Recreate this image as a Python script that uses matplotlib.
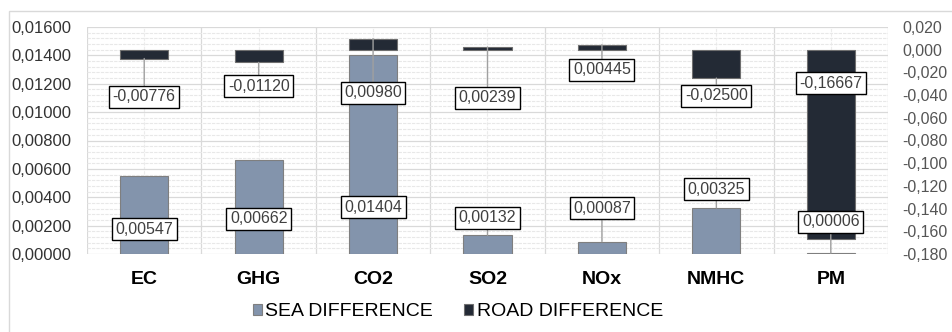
import matplotlib
matplotlib.use("Agg")
import matplotlib.pyplot as plt
from matplotlib.patches import Rectangle
from matplotlib.ticker import FixedLocator, MultipleLocator
import numpy as np

plt.rcParams['font.family'] = ['Liberation Sans', 'DejaVu Sans']

categories = ["EC", "GHG", "CO2", "SO2", "NOx", "NMHC", "PM"]
sea_diff = [0.00547, 0.00662, 0.01404, 0.00132, 0.00087, 0.00325, 0.00006]
road_diff = [-0.00776, -0.01120, 0.00980, 0.00239, 0.00445, -0.02500, -0.16667]
left_ticks = [0.0, 0.002, 0.004, 0.006, 0.008, 0.010, 0.012, 0.014, 0.016]
right_ticks = [0.02, 0.0, -0.02, -0.04, -0.06, -0.08, -0.10, -0.12, -0.14, -0.16, -0.18]

# label box positions (in left-axis units)
road_label_y = [0.01107, 0.01184, 0.01135, 0.01100, 0.01297, 0.01114, 0.01205]
sea_label_y = [0.00173, 0.00247, 0.00328, 0.00254, 0.00324, 0.00458, 0.00226]

SEA_COLOR = "#8394AC"
ROAD_COLOR = "#232A35"

fig = plt.figure(figsize=(9.52, 3.32), dpi=100)
fig.patches.append(Rectangle((9 / 952, -0.1), 1.2, 1 - 11 / 332 + 0.1,
                             transform=fig.transFigure, fill=False,
                             ec="#d9d9d9", lw=1.0, zorder=0))

ax = fig.add_axes([87 / 952, 1 - 254 / 332, (888 - 87) / 952, (254 - 27) / 332])
ax2 = ax.twinx()

x = np.arange(len(categories))
w = 0.42

ax.set_xlim(-0.5, len(categories) - 0.5)
ax.set_ylim(0, 0.016)
ax2.set_ylim(-0.18, 0.02)

# grid
ax.yaxis.set_major_locator(FixedLocator(left_ticks))
ax.yaxis.set_minor_locator(MultipleLocator(0.0004))
ax.grid(which="major", axis="y", color="#d9d9d9", lw=0.9, ls="-", zorder=0)
ax.grid(which="minor", axis="y", color="#e8e8e8", lw=0.8, ls=(0, (3, 1)), zorder=0)
for b in np.arange(-0.5, len(categories) + 0.5, 1):
    ax.axvline(b, color="#d9d9d9", lw=0.9, zorder=0)
for c in x:
    ax.axvline(c, color="#ececec", lw=0.8, ls=(0, (3, 1)), zorder=0)
ax.set_axisbelow(True)

ax.bar(x, sea_diff, width=w, color=SEA_COLOR, edgecolor="#7f7f7f", lw=0.8, zorder=2,
       label="SEA DIFFERENCE")
ax2.bar(x, road_diff, width=w, color=ROAD_COLOR, edgecolor="#6f6f6f", lw=0.8, zorder=2,
        label="ROAD DIFFERENCE")

# ticks
ax.set_xticks(x)
ax.set_xticklabels(categories, fontsize=14, fontweight="bold", color="#000000")
ax.tick_params(axis="x", length=0, pad=12)
ax.set_yticklabels([f"{t:.5f}".replace(".", ",") for t in left_ticks], fontsize=12,
                   color="#333333")
ax.tick_params(axis="y", which="both", length=0, pad=11)
ax2.yaxis.set_major_locator(FixedLocator(right_ticks))
ax2.set_yticklabels([f"{t:.3f}".replace(".", ",") for t in right_ticks], fontsize=11.5,
                    color="#555555")
ax2.tick_params(axis="y", which="both", length=0, pad=10.5)
for a in (ax, ax2):
    for s in a.spines.values():
        s.set_visible(False)

bbox = dict(boxstyle="square,pad=0.22", fc="white", ec="black", lw=1.0)
arrow = dict(arrowstyle="-", color="#a0a0a0", lw=1.0, shrinkA=0, shrinkB=0)

def fmt(v):
    return f"{v:.5f}".replace(".", ",")

# conversion from right-axis units to left-axis units (for deciding leader lines)
def r2l(v):
    lo2, hi2 = ax2.get_ylim()
    lo, hi = ax.get_ylim()
    return lo + (v - lo2) / (hi2 - lo2) * (hi - lo)

for i in range(len(categories)):
    # road label
    a0, a1 = sorted([r2l(0.0), r2l(road_diff[i])])
    inside = a0 <= road_label_y[i] <= a1
    ax2.annotate(fmt(road_diff[i]), xy=(x[i], road_diff[i]), xycoords=ax2.transData,
                 xytext=(x[i], road_label_y[i]), textcoords=ax.transData,
                 ha="center", va="center", fontsize=11.5, color="#404040",
                 bbox=bbox, arrowprops=None if inside else arrow, zorder=5)
    # sea label
    inside = 0 <= sea_label_y[i] <= sea_diff[i]
    ax2.annotate(fmt(sea_diff[i]), xy=(x[i], sea_diff[i]), xycoords=ax.transData,
                 xytext=(x[i], sea_label_y[i]), textcoords=ax.transData,
                 ha="center", va="center", fontsize=11.5, color="#404040",
                 bbox=bbox, arrowprops=None if inside else arrow, zorder=5)

h1, l1 = ax.get_legend_handles_labels()
h2, l2 = ax2.get_legend_handles_labels()
fig.legend(h1 + h2, l1 + l2, loc="center", bbox_to_anchor=(458 / 952, 1 - 312 / 332),
           ncol=2, frameon=False, fontsize=14, handlelength=0.45, handleheight=0.45,
           handletextpad=0.2, columnspacing=1.6)

fig.savefig("out.png", dpi=100)
